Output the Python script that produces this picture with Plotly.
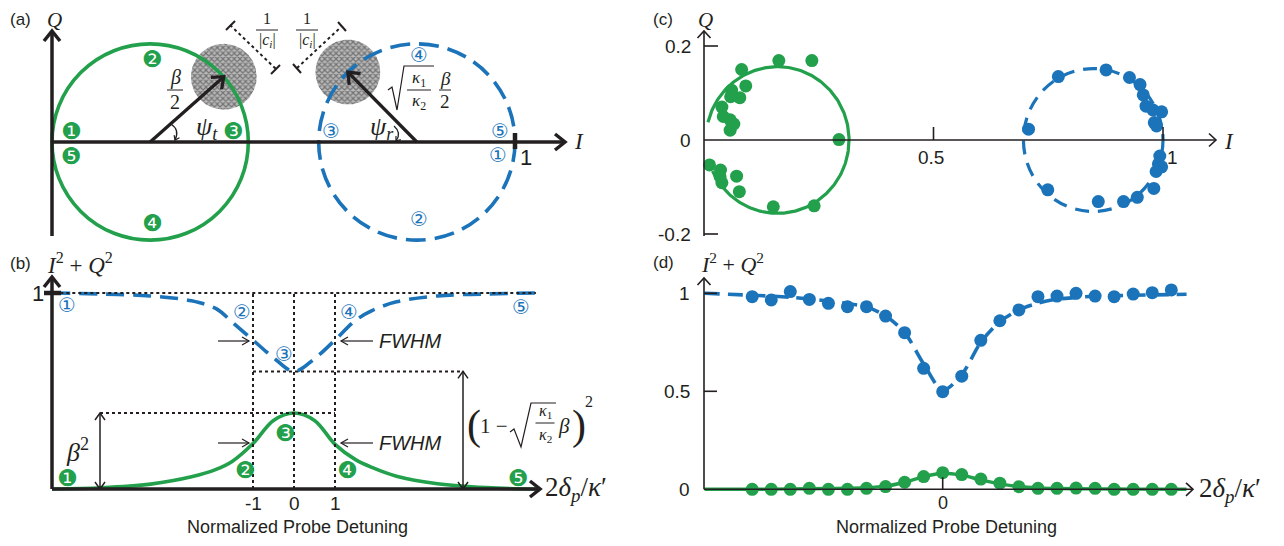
import numpy as np
import plotly.graph_objects as go

# screen size of the reference and the default 8px page margin of the html body
SCREEN_W, SCREEN_H = 1284, 546
PAGE = 8
FW, FH = SCREEN_W - 2 * PAGE, SCREEN_H - 2 * PAGE

GREEN = '#22a04b'
BLUE = '#1b73b9'
INK = '#231f20'
SANS = 'Liberation Sans'
SERIF = 'Liberation Serif'
SYM = 'DejaVu Sans'

# ======================= DATA =======================
# (a) schematic IQ-plane circles (I units, centred on Q = 0)
a_circle_centers = [0.212, 0.788]          # transmission, reflection
a_circle_radius = [0.212, 0.212]
a_noise_I = [0.371, 0.639]                  # noise blobs at tip of the phasor
a_noise_Q = [0.141, 0.151]
a_noise_radius = [0.071, 0.070]

# (b) schematic spectra vs normalized detuning 2*delta_p/kappa'
b_detuning = [-5.9, -4.7, -3.5, -2.5, -1.9, -1.5, -1.0, -0.5, 0.0, 0.5, 1.0, 1.5, 1.9, 2.5, 3.5, 4.7, 5.9]
b_transmission = [0.0, 0.006, 0.025, 0.062, 0.10, 0.142, 0.232, 0.35, 0.388, 0.35, 0.228, 0.15, 0.11, 0.065, 0.027, 0.007, 0.0]
b_reflection = [1.0, 0.995, 0.985, 0.96, 0.92, 0.85, 0.76, 0.67, 0.60, 0.665, 0.76, 0.86, 0.91, 0.955, 0.985, 0.995, 1.0]
b_ticks = [-1, 0, 1]

# (c) measured IQ points
c_trans_I = [0.163, 0.235, 0.082, 0.091, 0.060, 0.078, 0.058, 0.039, 0.042, 0.057, 0.065, 0.057, 0.294,
             0.012, 0.036, 0.035, 0.039, 0.071, 0.077, 0.151, 0.240]
c_trans_Q = [0.169, 0.169, 0.150, 0.115, 0.106, 0.090, 0.092, 0.070, 0.050, 0.043, 0.034, 0.021, 0.001,
             -0.053, -0.064, -0.078, -0.091, -0.077, -0.110, -0.142, -0.140]
c_refl_I = [0.876, 0.927, 0.950, 0.957, 0.963, 0.978, 0.997, 0.981, 0.986, 0.772, 0.707,
            0.993, 0.990, 0.997, 0.985, 0.980, 0.944, 0.914, 0.859, 0.749]
c_refl_Q = [0.149, 0.133, 0.118, 0.096, 0.072, 0.064, 0.060, 0.037, 0.030, 0.135, 0.023,
            -0.034, -0.051, -0.057, -0.067, -0.103, -0.122, -0.131, -0.131, -0.106]
# fitted circles
c_trans_fit = dict(center=0.160, radius=0.156, arc_start_deg=166.0, arc_end_deg=-155.0)
c_refl_fit = dict(center=0.848, radius=0.152)
c_I_ticks = [0.5, 1]
c_Q_ticks = [-0.2, 0, 0.2]

# (d) measured |S|^2 vs detuning (sample index, 0 = resonance)
d_detuning = [-10, -9, -8, -7, -6, -5, -4, -3, -2, -1, 0, 1, 2, 3, 4, 5, 6, 7, 8, 9, 10, 11, 12]
d_reflection = [0.983, 0.966, 1.009, 0.969, 0.949, 0.932, 0.932, 0.884, 0.799, 0.617, 0.498, 0.577,
                0.76, 0.86, 0.915, 0.983, 0.986, 1.0, 0.986, 0.983, 0.996, 1.003, 1.017]
d_transmission = [0.0, 0.0, 0.0, 0.005, 0.0, 0.0, 0.005, 0.014, 0.036, 0.065, 0.085, 0.075, 0.052,
                  0.031, 0.013, 0.005, 0.005, 0.006, 0.005, 0.0, 0.0, 0.0, 0.0]
d_fit_detuning = [-12.5, -10, -8, -6, -4, -3, -2, -1, 0, 1, 2, 3, 4, 5, 6, 8, 10, 12.8]
d_fit_reflection = [1.0, 0.99, 0.98, 0.96, 0.93, 0.885, 0.80, 0.64, 0.505, 0.585, 0.75, 0.855, 0.915,
                    0.95, 0.97, 0.985, 0.99, 0.995]
d_fit_transmission = [0.0, 0.0, 0.002, 0.004, 0.008, 0.016, 0.036, 0.065, 0.082, 0.072, 0.048, 0.028,
                      0.014, 0.007, 0.004, 0.002, 0.001, 0.0]
d_y_ticks = [0, 0.5, 1]
d_x_ticks = [0]

# ======================= LAYOUT HELPERS =======================
# screen-pixel mapping of each panel: px = x0 + sx*x ; py = y0 - sy*y
PANELS = {
    'a': dict(n='', x0=52.0, sx=463.0, y0=142.0, sy=463.0, box=(8, 640, 8, 250)),
    'b': dict(n='2', x0=294.0, sx=41.0, y0=489.0, sy=196.0, box=(8, 640, 250, 538)),
    'c': dict(n='3', x0=704.0, sx=459.0, y0=140.0, sy=470.0, box=(650, 1276, 8, 250)),
    'd': dict(n='4', x0=942.7, sx=19.05, y0=489.3, sy=196.0, box=(650, 1276, 250, 538)),
}

fig = go.Figure()
ann, shapes = [], []
axes_layout = {}
for key, p in PANELS.items():
    bx0, bx1, by0, by1 = p['box']
    axes_layout['xaxis' + p['n']] = dict(domain=[(bx0 - PAGE) / FW, (bx1 - PAGE) / FW],
                                         range=[(bx0 - p['x0']) / p['sx'], (bx1 - p['x0']) / p['sx']],
                                         visible=False, fixedrange=True, anchor='y' + p['n'])
    axes_layout['yaxis' + p['n']] = dict(domain=[1 - (by1 - PAGE) / FH, 1 - (by0 - PAGE) / FH],
                                         range=[(p['y0'] - by1) / p['sy'], (p['y0'] - by0) / p['sy']],
                                         visible=False, fixedrange=True, anchor='x' + p['n'])


def ref(key):
    n = PANELS[key]['n']
    return 'x' + n, 'y' + n


def to_px(key, x, y):
    p = PANELS[key]
    return p['x0'] + p['sx'] * x, p['y0'] - p['sy'] * y


def paper(px, py):
    return (px - PAGE) / FW, 1 - (py - PAGE) / FH


def text(px, py, s, size, family=SANS, color=INK, xanchor='center', yanchor='middle'):
    x, y = paper(px, py)
    ann.append(dict(x=x, y=y, xref='paper', yref='paper', text=s, showarrow=False,
                    font=dict(size=size, family=family, color=color), xanchor=xanchor, yanchor=yanchor))


def dtext(key, x, y, s, size, family=SANS, color=INK, xanchor='center', xshift=0, yshift=0):
    xr, yr = ref(key)
    ann.append(dict(x=x, y=y, xref=xr, yref=yr, text=s, showarrow=False, xshift=xshift, yshift=yshift,
                    font=dict(size=size, family=family, color=color), xanchor=xanchor, yanchor='middle'))


def seg(px0, py0, px1, py1, width=1.5, color=INK, dash='solid'):
    x0, y0 = paper(px0, py0)
    x1, y1 = paper(px1, py1)
    shapes.append(dict(type='line', xref='paper', yref='paper', x0=x0, y0=y0, x1=x1, y1=y1,
                       line=dict(width=width, color=color, dash=dash)))


def dseg(key, x0, y0, x1, y1, width=1.5, color=INK, dash='solid'):
    xr, yr = ref(key)
    shapes.append(dict(type='line', xref=xr, yref=yr, x0=x0, y0=y0, x1=x1, y1=y1,
                       line=dict(width=width, color=color, dash=dash)))


def poly(points, width=1.2, color=INK):
    parts = []
    for i, (px, py) in enumerate(points):
        x, y = paper(px, py)
        parts.append(('M' if i == 0 else 'L') + f'{x:.5f},{y:.5f}')
    shapes.append(dict(type='path', xref='paper', yref='paper', path=' '.join(parts),
                       line=dict(width=width, color=color)))


def qcurve(p0, pc, p1, width=1.3, color=INK):
    a, b, c = paper(*p0), paper(*pc), paper(*p1)
    shapes.append(dict(type='path', xref='paper', yref='paper',
                       path=f'M{a[0]:.5f},{a[1]:.5f} Q{b[0]:.5f},{b[1]:.5f} {c[0]:.5f},{c[1]:.5f}',
                       line=dict(width=width, color=color)))


def chevron(tip, direction, length, half, width, color=INK):
    ux, uy = direction
    nx, ny = -uy, ux
    bx, by = tip[0] - length * ux, tip[1] - length * uy
    poly([(bx + half * nx, by + half * ny), tip, (bx - half * nx, by - half * ny)], width, color)


def arrow(tail, head, width, length, half, both=False, color=INK):
    """Straight arrow in screen pixels with open chevron head(s)."""
    dx, dy = head[0] - tail[0], head[1] - tail[1]
    n = (dx * dx + dy * dy) ** 0.5
    u = (dx / n, dy / n)
    seg(tail[0], tail[1], head[0], head[1], width, color)
    chevron(head, u, length, half, width, color)
    if both:
        chevron(tail, (-u[0], -u[1]), length, half, width, color)


def frac(cx, cy, num, den, size, bar, family=SERIF, gap=None, color=INK):
    g = gap if gap is not None else size * 0.62
    text(cx, cy - g, num, size, family, color)
    text(cx, cy + g, den, size, family, color)
    seg(cx - bar / 2, cy, cx + bar / 2, cy, 1.0, color)


# ======================= PANEL (a) =======================
t = np.linspace(0, 2 * np.pi, 160)
for ci, cq, r in zip(a_noise_I, a_noise_Q, a_noise_radius):
    fig.add_trace(go.Scatter(x=ci + r * np.cos(t), y=cq + r * np.sin(t), mode='lines', fill='toself',
                             line=dict(width=0, color='rgba(0,0,0,0)'), fillcolor='#9a9a9a',
                             fillpattern=dict(shape='x', fgcolor='#2e2e2e', bgcolor='#b8b8b8', size=4, solidity=0.5),
                             xaxis='x', yaxis='y', hoverinfo='skip', showlegend=False))
for c, r, col, dash in zip(a_circle_centers, a_circle_radius, [GREEN, BLUE], ['solid', '20px,9px']):
    shapes.append(dict(type='circle', xref='x', yref='y', x0=c - r, x1=c + r, y0=-r, y1=r,
                       line=dict(color=col, width=3.6, dash=dash), layer='above'))

arrow((52, 236), (52, 31), 3.5, 10, 8)
arrow((52, 142), (565, 142), 3.5, 10, 8)
seg(515, 133, 515, 149, 4.5)
# phasor arrows from circle centers to noise blobs
for c, ni, nq in zip(a_circle_centers, a_noise_I, a_noise_Q):
    arrow(to_px('a', c, 0), to_px('a', ni, nq), 3.3, 10, 8)
qcurve((171, 124), (180, 130), (175, 140))
chevron((175, 140), (-0.45, 0.89), 4, 3, 1.2)
qcurve((394, 126), (402, 133), (396, 141))
chevron((396, 141), (-0.6, 0.8), 4, 3, 1.2)

text(20, 20, '(a)', 17)
text(54, 20, '<i>Q</i>', 21, SERIF)
text(579, 142, '<i>I</i>', 23, SERIF)
text(526, 157, '1', 22)
frac(175, 90, '<i>β</i>', '2', 20, 16)
text(207, 128, '<i>ψ</i><sub><i>t</i></sub>', 26, SERIF)
text(382, 128, '<i>ψ</i><sub><i>r</i></sub>', 26, SERIF)
poly([(388, 90), (392, 87), (397, 110), (404, 66), (434, 66)], 1.2)
frac(419, 90, '<i>κ</i><sub>1</sub>', '<i>κ</i><sub>2</sub>', 17, 24, gap=11.5)
frac(445, 90, '<i>β</i>', '2', 19, 12, gap=11.5)
# 1/|c_i| dimension markers
for (p0, p1, cap0, cap1, lx) in [((230, 25), (277, 70), ((226, 30), (235, 21)), ((271, 74), (280, 65)), 267),
                                  ((297, 68), (341, 27), ((293, 64), (301, 73)), ((338, 22), (346, 31)), 307)]:
    seg(p0[0], p0[1], p1[0], p1[1], 2.0, dash='dot')
    seg(cap0[0][0], cap0[0][1], cap0[1][0], cap0[1][1], 2.0)
    seg(cap1[0][0], cap1[0][1], cap1[1][0], cap1[1][1], 2.0)
    frac(lx, 30, '1', '|<i>c</i><sub><i>i</i></sub>|', 16, 22, gap=11)

for s, (px, py) in zip(['❶', '❷', '❸', '❹', '❺'], [(71, 131), (152, 59), (233, 131), (152, 223), (71, 156)]):
    text(px, py, s, 23, SYM, GREEN)
for s, (px, py) in zip(['①', '②', '③', '④', '⑤'], [(498, 155), (419, 219), (331, 131), (419, 55), (500, 131)]):
    text(px, py, s, 20, SYM, BLUE)

# ======================= PANEL (b) =======================
fig.add_trace(go.Scatter(x=b_detuning, y=b_reflection, mode='lines', xaxis='x2', yaxis='y2',
                         line=dict(color=BLUE, width=3.6, dash='18px,9px', shape='spline', smoothing=1.0),
                         hoverinfo='skip', showlegend=False))
fig.add_trace(go.Scatter(x=b_detuning, y=b_transmission, mode='lines', xaxis='x2', yaxis='y2',
                         line=dict(color=GREEN, width=3.6, shape='spline', smoothing=1.0),
                         hoverinfo='skip', showlegend=False))
peak = max(b_transmission)
dip = min(b_reflection)
bl = (100 - PANELS['b']['x0']) / PANELS['b']['sx']   # left edge of the peak guide line
br = (463 - PANELS['b']['x0']) / PANELS['b']['sx']   # right edge of the dip guide line
dseg('b', b_detuning[0] + 0.2, 1.0, b_detuning[-1], 1.0, 2.0, dash='dot')
for tk in b_ticks:
    dseg('b', tk, 0, tk, 1.0, 2.0, dash='dot')
dseg('b', bl, peak, b_ticks[-1], peak, 2.0, dash='dot')
dseg('b', b_ticks[0], dip, br, dip, 2.0, dash='dot')
arrow(to_px('b', bl, 0), to_px('b', bl, peak), 1.5, 7, 5, both=True)
arrow(to_px('b', br, 0), to_px('b', br, dip), 1.5, 7, 5, both=True)

arrow((52, 489), (52, 277), 3.5, 10, 8)
arrow((52, 489), (540, 489), 3.5, 10, 8)
seg(44, 293, 61, 293, 4.5)
for tk in b_ticks:
    dtext('b', tk, 0, str(tk), 19, yshift=-14)
text(38, 293, '1', 22)
text(20, 263, '(b)', 17)
text(80, 263, '<i>I</i><sup>2</sup> + <i>Q</i><sup>2</sup>', 23, SERIF)
text(297, 527, 'Normalized Probe Detuning', 18)
text(543, 489, '2<i>δ</i><sub><i>p</i></sub>/<i>κ</i>′', 27, SERIF, xanchor='left')
# FWHM markers
for py in (341, 443):
    arrow((218, py), (249, py), 1.2, 7, 4)
    arrow((373, py), (341, py), 1.2, 7, 4)
    text(377, py, '<i>FWHM</i>', 20, SANS, xanchor='left')
text(77, 450, '<i>β</i><sup>2</sup>', 26, SERIF)
# (1 - sqrt(k1/k2) beta)^2
text(474, 425, '(', 42, SERIF)
text(494, 426, '1 −', 21, SERIF)
poly([(510, 432), (514, 429), (521, 447), (531, 403), (556, 403)], 1.2)
frac(545, 423, '<i>κ</i><sub>1</sub>', '<i>κ</i><sub>2</sub>', 16, 19, gap=12)
text(564, 426, '<i>β</i>', 21, SERIF)
text(579, 425, ')', 42, SERIF)
text(589, 402, '2', 16, SERIF)

for s, (px, py) in zip(['❶', '❷', '❸', '❹', '❺'], [(67, 478), (245, 470), (285, 433), (347, 470), (518, 478)]):
    text(px, py, s, 23, SYM, GREEN)
for s, (px, py) in zip(['①', '②', '③', '④', '⑤'], [(67, 305), (242, 312), (284, 354), (349, 312), (521, 307)]):
    text(px, py, s, 20, SYM, BLUE)

# ======================= PANEL (c) =======================
shapes.append(dict(type='circle', xref='x3', yref='y3',
                   x0=c_refl_fit['center'] - c_refl_fit['radius'], x1=c_refl_fit['center'] + c_refl_fit['radius'],
                   y0=-c_refl_fit['radius'], y1=c_refl_fit['radius'],
                   line=dict(color=BLUE, width=3.2, dash='14px,9px'), layer='below'))
th = np.radians(np.linspace(c_trans_fit['arc_start_deg'], c_trans_fit['arc_end_deg'], 240))
fig.add_trace(go.Scatter(x=c_trans_fit['center'] + c_trans_fit['radius'] * np.cos(th),
                         y=c_trans_fit['radius'] * np.sin(th), mode='lines', xaxis='x3', yaxis='y3',
                         line=dict(color=GREEN, width=3.2), hoverinfo='skip', showlegend=False))
fig.add_trace(go.Scatter(x=c_trans_I, y=c_trans_Q, mode='markers', xaxis='x3', yaxis='y3',
                         marker=dict(color=GREEN, size=13), hoverinfo='skip', showlegend=False))
fig.add_trace(go.Scatter(x=c_refl_I, y=c_refl_Q, mode='markers', xaxis='x3', yaxis='y3',
                         marker=dict(color=BLUE, size=13), hoverinfo='skip', showlegend=False))
arrow((704, 236), (704, 31), 1.6, 7, 6.5)
arrow((704, 140), (1216, 140), 1.6, 7, 6.5)
for tk in c_I_ticks:
    dseg('c', tk, 0, tk, 13 / PANELS['c']['sy'], 1.6)
    dtext('c', tk, 0, str(tk), 19, xshift=(9 if tk == 1 else -3), yshift=-17)
for tk in c_Q_ticks:
    if tk != 0:
        dseg('c', 0, tk, 14 / PANELS['c']['sx'], tk, 1.6)
    dtext('c', 0, tk, str(tk), 19, xanchor='right', xshift=-11)
text(663, 20, '(c)', 17)
text(705, 20, '<i>Q</i>', 21, SERIF)
text(1229, 142, '<i>I</i>', 23, SERIF)

# ======================= PANEL (d) =======================
fig.add_trace(go.Scatter(x=d_fit_detuning, y=d_fit_reflection, mode='lines', xaxis='x4', yaxis='y4',
                         line=dict(color=BLUE, width=3.6, dash='15px,8px', shape='spline', smoothing=0.8),
                         hoverinfo='skip', showlegend=False))
fig.add_trace(go.Scatter(x=d_fit_detuning, y=d_fit_transmission, mode='lines', xaxis='x4', yaxis='y4',
                         line=dict(color=GREEN, width=3.4, shape='spline', smoothing=0.8),
                         hoverinfo='skip', showlegend=False))
arrow((704, 489.3), (704, 278), 1.6, 7, 6.5)
arrow((704, 489.3), (1193, 489.3), 1.6, 7, 6.5)
fig.add_trace(go.Scatter(x=d_detuning, y=d_reflection, mode='markers', xaxis='x4', yaxis='y4',
                         marker=dict(color=BLUE, size=13), hoverinfo='skip', showlegend=False))
fig.add_trace(go.Scatter(x=d_detuning, y=d_transmission, mode='markers', xaxis='x4', yaxis='y4',
                         marker=dict(color=GREEN, size=13), hoverinfo='skip', showlegend=False))
d_axis_x = (704 - PANELS['d']['x0']) / PANELS['d']['sx']
for tk in d_y_ticks:
    if tk != 0:
        dseg('d', d_axis_x, tk, d_axis_x + 13 / PANELS['d']['sx'], tk, 1.6)
    dtext('d', d_axis_x, tk, str(tk), 19, xanchor='right', xshift=-12)
for tk in d_x_ticks:
    dseg('d', tk, 0, tk, 12 / PANELS['d']['sy'], 1.6)
    dtext('d', tk, 0, str(tk), 18, yshift=-14)
text(663, 262, '(d)', 17)
text(732, 263, '<i>I</i><sup>2</sup> + <i>Q</i><sup>2</sup>', 22, SERIF)
text(947, 527, 'Normalized Probe Detuning', 18)
text(1197, 490, '2<i>δ</i><sub><i>p</i></sub>/<i>κ</i>′', 27, SERIF, xanchor='left')

fig.update_layout(width=FW, height=FH, margin=dict(l=0, r=0, t=0, b=0),
                  paper_bgcolor='white', plot_bgcolor='rgba(0,0,0,0)', showlegend=False,
                  annotations=ann, shapes=shapes, **axes_layout)
fig.write_html('out.html')
